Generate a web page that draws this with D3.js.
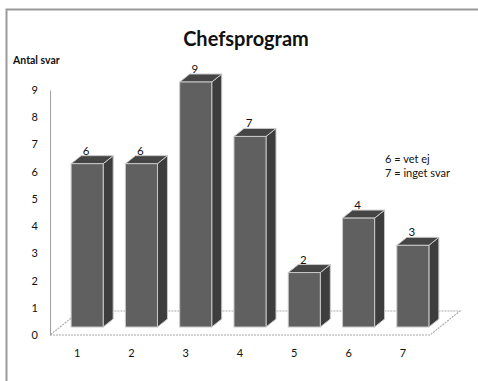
<!DOCTYPE html>
<html>
<head>
<meta charset="utf-8">
<script src="https://cdn.jsdelivr.net/npm/d3@7"></script>
<style>
  html, body { margin: 0; padding: 0; background: #fff; }
  svg { display: block; }
  text { font-family: Lato, "Open Sans", sans-serif; fill: #111; }
</style>
</head>
<body>
<svg id="chart" width="478" height="381"></svg>
<script>
// Answers per program alternative
const categories = ["1", "2", "3", "4", "5", "6", "7"];
const values = [6, 6, 9, 7, 2, 4, 3];
const yTicks = [0, 1, 2, 3, 4, 5, 6, 7, 8, 9];
const legendLines = ["6 = vet ej", "7 = inget svar"];
const titleText = "Chefsprogram";
const yAxisTitle = "Antal svar";

const svg = d3.select("#chart");

// Outer frame (runs off the right and bottom edges)
svg.append("path")
  .attr("d", "M6.5,390 L6.5,9.5 L490,9.5")
  .attr("fill", "none")
  .attr("stroke", "#9a9a9a")
  .attr("stroke-width", 2);

// Scales in the front (axis) plane
const x = d3.scaleBand().domain(categories).range([50, 430])
  .paddingInner(0.41).paddingOuter(0.205);
const y = d3.scaleLinear().domain([0, 9]).range([335, 90]);

// 3D depth vectors
const depth = { dx: 10, dy: -8 };     // bar depth and offset from front plane
const floorDepth = { dx: 30, dy: -24 };

// Floor
const y0 = y(0), xL = 50, xR = 430;
svg.append("path")
  .attr("d", `M${xL},${y0} L${xR},${y0} L${xR + floorDepth.dx},${y0 + floorDepth.dy} L${xL + floorDepth.dx},${y0 + floorDepth.dy} Z`)
  .attr("fill", "#fff")
  .attr("stroke", "#aaaaaa")
  .attr("stroke-width", 1.2)
  .attr("stroke-dasharray", "2,1");

// Y axis
const yAxis = d3.axisLeft(y).tickValues(yTicks).tickSize(0).tickSizeOuter(0).tickPadding(12);
const gy = svg.append("g").attr("transform", "translate(50,0)").call(yAxis);
gy.select(".domain").attr("stroke", "#a0a0a0");
gy.selectAll("text").style("font-size", "11px").style("font-family", "Lato, sans-serif").attr("fill", "#222");

// X axis labels
const xAxis = d3.axisBottom(x).tickSize(0).tickPadding(14);
const gx = svg.append("g").attr("transform", `translate(0,${y0})`).call(xAxis);
gx.select(".domain").remove();
gx.selectAll("text").style("font-size", "11px").style("font-family", "Lato, sans-serif").attr("fill", "#222");

// Bars as boxes
const bw = x.bandwidth();
const bars = svg.append("g").selectAll("g").data(values).join("g");
bars.each(function (v, i) {
  const g = d3.select(this);
  const fx = x(categories[i]) + depth.dx;
  const fb = y(0) + depth.dy;
  const ft = y(v) + depth.dy;
  // side face
  g.append("path")
    .attr("d", `M${fx + bw},${fb} L${fx + bw + depth.dx},${fb + depth.dy} L${fx + bw + depth.dx},${ft + depth.dy} L${fx + bw},${ft} Z`)
    .attr("fill", "#3d3d3d").attr("stroke", "#c8c8c8").attr("stroke-width", 1);
  // top face
  g.append("path")
    .attr("d", `M${fx},${ft} L${fx + depth.dx},${ft + depth.dy} L${fx + bw + depth.dx},${ft + depth.dy} L${fx + bw},${ft} Z`)
    .attr("fill", "#454545").attr("stroke", "#c8c8c8").attr("stroke-width", 1);
  // front face
  g.append("rect")
    .attr("x", fx).attr("y", ft).attr("width", bw).attr("height", fb - ft)
    .attr("fill", "#606060").attr("stroke", "#c8c8c8").attr("stroke-width", 1);
  // value label
  g.append("text")
    .attr("x", fx + bw / 2 - 1)
    .attr("y", ft + depth.dy - 1)
    .attr("text-anchor", "middle")
    .style("font-size", "11.5px")
    .text(v);
});

// Title
svg.append("text")
  .attr("x", 246).attr("y", 46)
  .attr("text-anchor", "middle")
  .style("font-size", "20px").style("font-weight", "bold")
  .text(titleText);

// Y axis title
svg.append("text")
  .attr("x", 13).attr("y", 64)
  .style("font-size", "10.5px").style("font-weight", "bold")
  .text(yAxisTitle);

// Legend note
svg.append("g").selectAll("text").data(legendLines).join("text")
  .attr("x", 385).attr("y", (d, i) => 163 + i * 14)
  .style("font-size", "11px")
  .text(d => d);
</script>
</body>
</html>
